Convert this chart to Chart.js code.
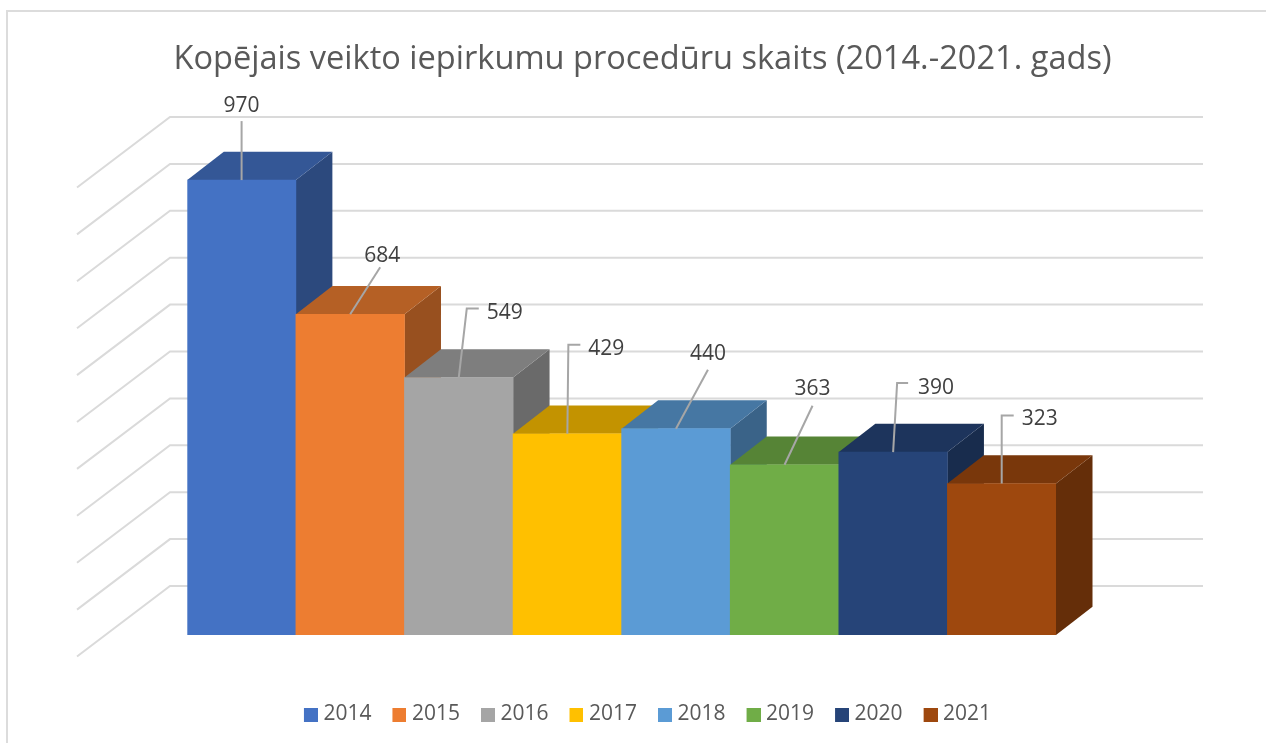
<!DOCTYPE html>
<html><head><meta charset="utf-8"><title>Iepirkumu procedūras</title>
<style>html,body{margin:0;padding:0;background:#fff}canvas{display:block}</style>
<script src="https://cdn.jsdelivr.net/npm/chart.js@4"></script></head>
<body><canvas id="c" width="1266" height="743"></canvas>
<script>
const titleText = 'Kopējais veikto iepirkumu procedūru skaits (2014.-2021. gads)';
const years = ['2014','2015','2016','2017','2018','2019','2020','2021'];
const counts = [970,684,549,429,440,363,390,323];
const frontColors = ['#4472C4','#ED7D31','#A5A5A5','#FFC000','#5B9BD5','#70AD47','#264478','#9E480E'];

// label leader lines, relative to the top-centre of each bar: [elbow|null, end, label centre]
const leaders = [
  [null,[0,-59],[0,-74]],
  [null,[30,-47],[32,-58]],
  [[8,-69],[20,-69],[46,-65]],
  [[1,-89],[13,-89],[39,-85]],
  [null,[32,-59],[32,-75]],
  [null,[28,-59],[28,-76]],
  [[4,-69],[15,-69],[43,-64.5]],
  [[0,-68],[12,-68],[38,-64.5]]
];
const DEPTH_X = 36.5, DEPTH_Y = 28.3;
const FONT = '"Open Sans", sans-serif';

function shade(hex, f){
  const n = parseInt(hex.slice(1),16);
  return 'rgb('+[(n>>16)&255,(n>>8)&255,n&255].map(v=>Math.round(v*f)).join(',')+')';
}
function marker(color){
  const m = document.createElement('canvas');
  m.width = 19; m.height = 14;
  const g = m.getContext('2d');
  g.fillStyle = color; g.fillRect(5,0,14,14);
  return m;
}

const scene3d = {
  id:'scene3d',
  afterLayout(chart){
    chart.legend.left += 5; chart.legend.right += 5;
  },
  beforeDraw(chart){
    const {ctx} = chart;
    ctx.save();
    ctx.strokeStyle='#dcdcdc'; ctx.lineWidth=2;
    ctx.beginPath();
    ctx.moveTo(7,743); ctx.lineTo(7,11); ctx.lineTo(1266,11);
    ctx.stroke();
    ctx.restore();
  },
  beforeDatasetsDraw(chart){
    const {ctx, scales:{y}} = chart;
    ctx.save();
    // wall grid
    ctx.strokeStyle='#dadada'; ctx.lineWidth=2; ctx.lineJoin='miter';
    y.ticks.forEach(t=>{
      const py = y.getPixelForValue(t.value);
      ctx.beginPath();
      ctx.moveTo(77, py+21.5);
      ctx.lineTo(170, py-49);
      ctx.lineTo(1203, py-49);
      ctx.stroke();
    });
    // bar depth faces, left to right
    chart.getDatasetMeta(0).data.forEach((bar,i)=>{
      const l = bar.x-bar.width/2, r = bar.x+bar.width/2, t = bar.y, b = bar.base;
      ctx.fillStyle = shade(frontColors[i],0.64);
      ctx.beginPath();
      ctx.moveTo(r,t); ctx.lineTo(r+DEPTH_X,t-DEPTH_Y); ctx.lineTo(r+DEPTH_X,b-DEPTH_Y); ctx.lineTo(r,b);
      ctx.closePath(); ctx.fill();
      ctx.fillStyle = shade(frontColors[i],0.765);
      ctx.beginPath();
      ctx.moveTo(l,t); ctx.lineTo(l+DEPTH_X,t-DEPTH_Y); ctx.lineTo(r+DEPTH_X,t-DEPTH_Y); ctx.lineTo(r,t);
      ctx.closePath(); ctx.fill();
    });
    ctx.restore();
  },
  afterDatasetsDraw(chart){
    const {ctx} = chart;
    ctx.save();
    ctx.font = '21px '+FONT;
    ctx.textAlign='center'; ctx.textBaseline='middle';
    chart.getDatasetMeta(0).data.forEach((bar,i)=>{
      const [elbow,end,lab] = leaders[i];
      ctx.strokeStyle='#a6a6a6'; ctx.lineWidth=2;
      ctx.beginPath();
      ctx.moveTo(bar.x,bar.y);
      if(elbow) ctx.lineTo(bar.x+elbow[0],bar.y+elbow[1]);
      ctx.lineTo(bar.x+end[0],bar.y+end[1]);
      ctx.stroke();
      ctx.fillStyle='#404040';
      ctx.fillText(String(counts[i]),bar.x+lab[0],bar.y+lab[1]);
    });
    ctx.restore();
  }
};

new Chart(document.getElementById('c'),{
  type:'bar',
  plugins:[scene3d],
  data:{labels:years,datasets:[{label:'Procedūru skaits',data:counts,backgroundColor:frontColors,borderWidth:0,barPercentage:1,categoryPercentage:1}]},
  options:{
    responsive:false,animation:false,
    layout:{padding:{left:19,right:0,top:0,bottom:8}},
    scales:{
      x:{display:true,ticks:{display:false},grid:{display:false},border:{display:false},
         afterFit(s){s.height=743-635-8-((s.chart.legend&&s.chart.legend.height)||46);}},
      y:{min:0,max:1000,ticks:{display:false,stepSize:100},grid:{display:false},border:{display:false},
         afterFit(s){s.width=187.3-19;}},
      yRight:{axis:'y',position:'right',display:true,min:0,max:1000,ticks:{display:false},grid:{display:false},border:{display:false},
         afterFit(s){s.width=1266-1056;}}
    },
    plugins:{
      tooltip:{enabled:false},
      title:{display:true,text:titleText,color:'#595959',font:{family:FONT,size:32.6,weight:'normal',lineHeight:1.2},padding:{top:40,bottom:86.9}},
      legend:{display:true,position:'bottom',labels:{
        color:'#595959',font:{family:FONT,size:21},padding:21,usePointStyle:true,pointStyleWidth:9,boxWidth:9,boxHeight:14,
        generateLabels:()=>years.map((y,i)=>({text:y,fillStyle:frontColors[i],strokeStyle:frontColors[i],lineWidth:0,pointStyle:marker(frontColors[i]),index:i,fontColor:'#595959'}))
      }}
    }
  }
});
</script></body></html>
